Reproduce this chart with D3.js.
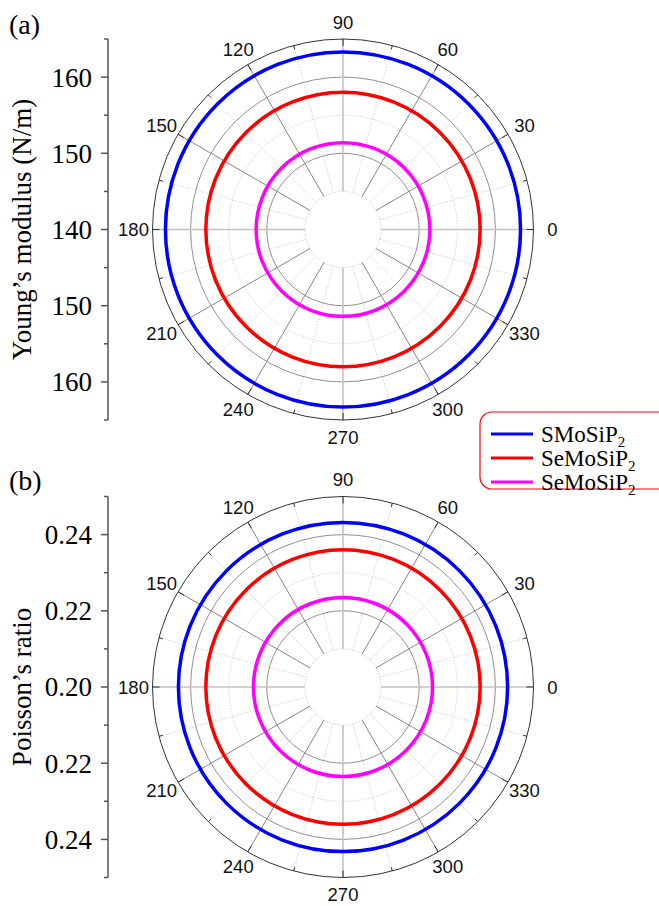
<!DOCTYPE html>
<html>
<head>
<meta charset="utf-8">
<script src="https://cdn.jsdelivr.net/npm/d3@7"></script>
<style>
  body { margin: 0; background: #fff; }
  svg { display: block; }
</style>
</head>
<body>
<svg width="659" height="906"></svg>
<script>
// series (isotropic, so one value per material)
const materials = ['SMoSiP', 'SeMoSiP', 'SeMoSiP'];
const seriesColors = ['#0000ff', '#ff0000', '#ff00ff'];
const youngValues = [163.3, 158.0, 151.4];
const poissonValues = [0.2432, 0.2360, 0.2235];

// axes
const youngDomain = [140, 165];
const youngTicks = [140, 150, 160];
const poissonDomain = [0.20, 0.25];
const poissonTicks = [0.20, 0.22, 0.24];
const angleTicks = [0, 30, 60, 90, 120, 150, 180, 210, 240, 270, 300, 330];

const R = 190.5;
const cx = 343;
const serif = '"Liberation Serif", "Times New Roman", serif';
const svg = d3.select('svg');

const toRad = a => a * Math.PI / 180;

function polarPanel(opts) {
	const cy = opts.cy;
	const rScale = d3.scaleLinear()
		.domain(opts.domain)
		.range([0, R]);
	const step = (opts.ticks[1] - opts.ticks[0]) / 2;
	const hole = rScale(opts.domain[0] + step);

	const g = svg.append('g')
		.attr('transform', `translate(${cx},${cy})`);

	// minor (dotted) rings
	const minorRings = d3.range(opts.domain[0] + step, opts.domain[1] - step / 2, step * 2);
	g.selectAll('circle.minor')
		.data(minorRings)
		.enter()
			.append('circle')
			.attr('r', d => rScale(d))
			.attr('fill', 'none')
			.attr('stroke', '#c8c8c8')
			.attr('stroke-width', 0.8)
			.attr('stroke-dasharray', '1.5,1.5');

	// dotted spokes every 15 deg offset
	g.selectAll('line.minorSpoke')
		.data(angleTicks.map(a => a + 15))
		.enter()
			.append('line')
			.attr('x1', a => hole * Math.cos(toRad(a)))
			.attr('y1', a => -hole * Math.sin(toRad(a)))
			.attr('x2', a => R * Math.cos(toRad(a)))
			.attr('y2', a => -R * Math.sin(toRad(a)))
			.attr('stroke', '#c8c8c8')
			.attr('stroke-width', 0.8)
			.attr('stroke-dasharray', '1.5,1.5');

	// major rings
	g.selectAll('circle.major')
		.data(opts.ticks.slice(1))
		.enter()
			.append('circle')
			.attr('r', d => rScale(d))
			.attr('fill', 'none')
			.attr('stroke', '#9a8e8e')
			.attr('stroke-width', 1);

	// major spokes
	g.selectAll('line.majorSpoke')
		.data(angleTicks)
		.enter()
			.append('line')
			.attr('x1', a => hole * Math.cos(toRad(a)))
			.attr('y1', a => -hole * Math.sin(toRad(a)))
			.attr('x2', a => R * Math.cos(toRad(a)))
			.attr('y2', a => -R * Math.sin(toRad(a)))
			.attr('stroke', a => (a % 90 === 0) ? '#c9c0c0' : '#8f8282')
			.attr('stroke-width', a => (a % 90 === 0) ? 1.6 : 1);

	// outer circle + inward ticks
	g.append('circle')
		.attr('r', R)
		.attr('fill', 'none')
		.attr('stroke', '#333')
		.attr('stroke-width', 1);

	g.selectAll('line.tick')
		.data(d3.range(0, 360, 15))
		.enter()
			.append('line')
			.attr('x1', a => R * Math.cos(toRad(a)))
			.attr('y1', a => -R * Math.sin(toRad(a)))
			.attr('x2', a => (R - (a % 30 === 0 ? 7 : 4)) * Math.cos(toRad(a)))
			.attr('y2', a => -(R - (a % 30 === 0 ? 7 : 4)) * Math.sin(toRad(a)))
			.attr('stroke', '#333')
			.attr('stroke-width', 1);

	// angle labels
	g.selectAll('text.angle')
		.data(angleTicks)
		.enter()
			.append('text')
			.attr('x', a => (R + 19) * Math.cos(toRad(a)))
			.attr('y', a => -(R + 17) * Math.sin(toRad(a)))
			.attr('dy', '0.36em')
			.attr('text-anchor', 'middle')
			.attr('font-family', '"Liberation Sans", Arial, sans-serif')
			.attr('font-size', 18.5)
			.attr('fill', '#111')
			.text(a => a);

	// series
	g.selectAll('circle.series')
		.data(opts.values)
		.enter()
			.append('circle')
			.attr('r', d => rScale(d))
			.attr('fill', 'none')
			.attr('stroke', (d, i) => seriesColors[i])
			.attr('stroke-width', 3.5);

	// left radial axis: mirrored scale
	const span = opts.domain[1] - opts.domain[0];
	const yScale = d3.scaleLinear()
		.domain([-span, span])
		.range([cy + R, cy - R]);
	const ax = svg.append('g')
		.attr('transform', 'translate(108,0)');
	const majorOff = opts.ticks.map(t => t - opts.domain[0]);
	const allMajor = majorOff.concat(majorOff.slice(1).map(t => -t));
	const allMinor = d3.range(step, span + step / 2, step * 2);
	const minorTicks = allMinor.concat(allMinor.map(t => -t));

	ax.append('line')
		.attr('y1', yScale(-span))
		.attr('y2', yScale(span))
		.attr('stroke', '#555')
		.attr('stroke-width', 1.5);
	ax.selectAll('line.maj')
		.data(allMajor)
		.enter()
			.append('line')
			.attr('x1', -7)
			.attr('y1', d => yScale(d))
			.attr('y2', d => yScale(d))
			.attr('stroke', '#555')
			.attr('stroke-width', 1.5);
	ax.selectAll('line.min')
		.data(minorTicks)
		.enter()
			.append('line')
			.attr('x1', -4)
			.attr('y1', d => yScale(d))
			.attr('y2', d => yScale(d))
			.attr('stroke', '#555')
			.attr('stroke-width', 1.5);
	ax.selectAll('text')
		.data(allMajor)
		.enter()
			.append('text')
			.attr('x', -16)
			.attr('y', d => yScale(d))
			.attr('dy', '0.35em')
			.attr('text-anchor', 'end')
			.attr('font-family', serif)
			.attr('font-size', 27)
			.text(d => opts.format(opts.domain[0] + Math.abs(d)));

	// axis title
	svg.append('text')
		.attr('transform', `translate(31,${cy}) rotate(-90)`)
		.attr('text-anchor', 'middle')
		.attr('font-family', serif)
		.attr('font-size', 27)
		.text(opts.title);

	// panel letter
	svg.append('text')
		.attr('x', 9)
		.attr('y', opts.letterY)
		.attr('font-family', serif)
		.attr('font-size', 28)
		.text(opts.letter);
}

polarPanel({
	cy: 229.5,
	domain: youngDomain,
	ticks: youngTicks,
	values: youngValues,
	format: d3.format('d'),
	title: 'Young’s modulus (N/m)',
	letter: '(a)',
	letterY: 34,
});

polarPanel({
	cy: 687,
	domain: poissonDomain,
	ticks: poissonTicks,
	values: poissonValues,
	format: d3.format('.2f'),
	title: 'Poisson’s ratio',
	letter: '(b)',
	letterY: 490,
});

// legend
const legend = svg.append('g');
legend.append('rect')
	.attr('x', 480)
	.attr('y', 412)
	.attr('width', 200)
	.attr('height', 77)
	.attr('rx', 12)
	.attr('fill', '#fff')
	.attr('stroke', '#ff0000')
	.attr('stroke-width', 1.2);

const items = legend.selectAll('g.item')
	.data(materials)
	.enter()
		.append('g')
		.attr('transform', (d, i) => `translate(0,${434 + i * 24})`);
items.append('line')
	.attr('x1', 491)
	.attr('x2', 533)
	.attr('stroke', (d, i) => seriesColors[i])
	.attr('stroke-width', 3);
const label = items.append('text')
	.attr('x', 541)
	.attr('dy', '0.35em')
	.attr('font-family', serif)
	.attr('font-size', 23);
label.append('tspan').text(d => d);
label.append('tspan')
	.attr('font-size', 15)
	.attr('dy', 5)
	.text('2');
</script>
</body>
</html>
